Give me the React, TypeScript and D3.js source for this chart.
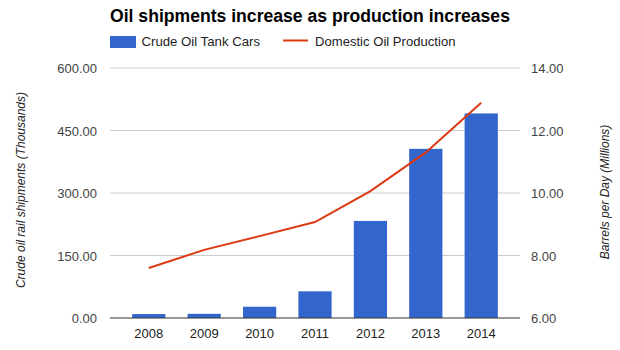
import React, { useEffect, useRef } from 'react';
import * as d3 from 'd3';

const years = ['2008', '2009', '2010', '2011', '2012', '2013', '2014'];
const tankCars = [9.5, 10, 27, 64, 233, 406, 491];
const production = [7.6, 8.18, 8.62, 9.07, 10.06, 11.3, 12.89];
const leftTicks = [0, 150, 300, 450, 600];
const rightTicks = [6, 8, 10, 12, 14];

const App = () => {
  const chartRef = useRef<SVGSVGElement>(null);

  useEffect(() => {
    const svg = d3.select(chartRef.current);
    svg.selectAll('*').remove();

    const font = 'Arial, "Liberation Sans", sans-serif';
    const left = 110;
    const right = 520;
    const top = 68;
    const bottom = 318;

    const x = d3.scaleBand().domain(years).range([left, right]).padding(0.4);
    const yL = d3.scaleLinear().domain([0, 600]).range([bottom, top]);
    const yR = d3.scaleLinear().domain([6, 14]).range([bottom, top]);

    svg.append('rect').attr('width', 620).attr('height', 350).attr('fill', '#fff');

    // gridlines
    svg.append('g')
      .selectAll('line')
      .data(leftTicks.slice(1))
      .enter().append('line')
      .attr('x1', left).attr('x2', right)
      .attr('y1', (d) => yL(d)).attr('y2', (d) => yL(d))
      .attr('stroke', '#ccc').attr('stroke-width', 1);

    // left ticks
    svg.append('g')
      .selectAll('text')
      .data(leftTicks)
      .enter().append('text')
      .attr('x', 97).attr('y', (d) => yL(d) + 5)
      .attr('text-anchor', 'end')
      .attr('font-family', font).attr('font-size', 13).attr('fill', '#444')
      .text((d) => d.toFixed(2));

    // right ticks
    svg.append('g')
      .selectAll('text')
      .data(rightTicks)
      .enter().append('text')
      .attr('x', 531).attr('y', (d) => yR(d) + 5)
      .attr('font-family', font).attr('font-size', 13).attr('fill', '#444')
      .text((d) => d.toFixed(2));

    // bars
    svg.append('g')
      .selectAll('rect')
      .data(tankCars)
      .enter().append('rect')
      .attr('x', (d, i) => x(years[i]) as number)
      .attr('width', x.bandwidth())
      .attr('y', (d) => yL(d))
      .attr('height', (d) => bottom - yL(d))
      .attr('fill', '#3366cc');

    // baseline
    svg.append('line')
      .attr('x1', left).attr('x2', right)
      .attr('y1', bottom).attr('y2', bottom)
      .attr('stroke', '#333').attr('stroke-width', 1);

    // x labels
    svg.append('g')
      .selectAll('text')
      .data(years)
      .enter().append('text')
      .attr('x', (d) => (x(d) as number) + x.bandwidth() / 2)
      .attr('y', 338)
      .attr('text-anchor', 'middle')
      .attr('font-family', font).attr('font-size', 13).attr('fill', '#222')
      .text((d) => d);

    // production line
    const line = d3.line<number>()
      .x((d, i) => (x(years[i]) as number) + x.bandwidth() / 2)
      .y((d) => yR(d));
    svg.append('path')
      .datum(production)
      .attr('d', line)
      .attr('fill', 'none')
      .attr('stroke', '#dc3912')
      .attr('stroke-width', 2);

    // title
    svg.append('text')
      .attr('x', 110).attr('y', 22)
      .attr('font-family', font).attr('font-size', 17.6).attr('font-weight', 'bold')
      .attr('fill', '#000')
      .text('Oil shipments increase as production increases');

    // legend
    svg.append('rect')
      .attr('x', 110).attr('y', 36).attr('width', 26).attr('height', 12)
      .attr('fill', '#3366cc');
    svg.append('text')
      .attr('x', 141.5).attr('y', 46)
      .attr('font-family', font).attr('font-size', 13.2).attr('fill', '#222')
      .text('Crude Oil Tank Cars');
    svg.append('line')
      .attr('x1', 283).attr('x2', 308).attr('y1', 40.5).attr('y2', 40.5)
      .attr('stroke', '#dc3912').attr('stroke-width', 2);
    svg.append('text')
      .attr('x', 315).attr('y', 46)
      .attr('font-family', font).attr('font-size', 13.1).attr('fill', '#222')
      .text('Domestic Oil Production');

    // axis titles
    svg.append('text')
      .attr('transform', 'translate(25,190) rotate(-90)')
      .attr('text-anchor', 'middle')
      .attr('font-family', font).attr('font-size', 12).attr('font-style', 'italic')
      .attr('fill', '#222')
      .text('Crude oil rail shipments (Thousands)');
    svg.append('text')
      .attr('transform', 'translate(609,192) rotate(-90)')
      .attr('text-anchor', 'middle')
      .attr('font-family', font).attr('font-size', 12).attr('font-style', 'italic')
      .attr('fill', '#222')
      .text('Barrels per Day (Millions)');
  }, []);

  return (
    <svg
      ref={chartRef}
      width={620}
      height={350}
      style={{ position: 'absolute', left: 0, top: 0 }}
    ></svg>
  );
};

export default App;
